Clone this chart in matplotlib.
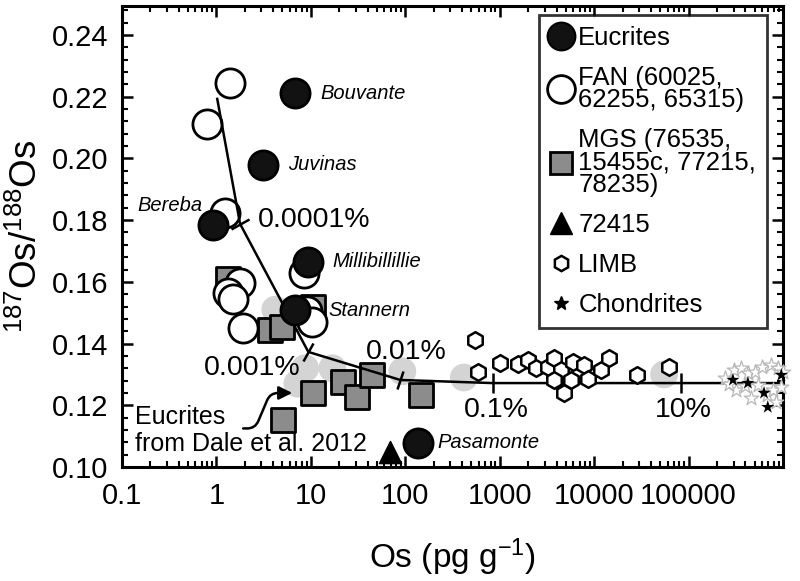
import matplotlib
matplotlib.use("Agg")
import matplotlib.pyplot as plt
from matplotlib.markers import MarkerStyle
from matplotlib.transforms import Affine2D
from matplotlib.lines import Line2D

plt.rcParams['font.family'] = ['Liberation Sans', 'DejaVu Sans']
plt.rcParams['mathtext.default'] = 'regular'

# ---------------- data ----------------
eucrite_names = ['Bouvante', 'Juvinas', 'Bereba', 'Millibillillie', 'Stannern', 'Pasamonte']
eucrite_os = [6.8, 3.1, 0.92, 9.4, 6.8, 138]
eucrite_ratio = [0.2212, 0.1979, 0.1784, 0.1665, 0.1509, 0.1078]
eucrite_label_os = [12.6, 5.75, 0.705, 16.9, 15.3, 219]
eucrite_label_ratio = [0.2212, 0.1979, 0.1849, 0.1665, 0.1506, 0.1078]
eucrite_label_ha = ['left', 'left', 'right', 'left', 'left', 'left']

fan_os = [1.40, 0.80, 1.24, 8.5, 1.78, 1.33, 1.50, 1.92, 9.0, 10.3]
fan_ratio = [0.2245, 0.2112, 0.1822, 0.1629, 0.1596, 0.1564, 0.1545, 0.1451, 0.1505, 0.1470]

mgs_os = [1.33, 10.6, 3.7, 4.9, 10.6, 5.1, 22, 31, 44.5, 145]
mgs_ratio = [0.161, 0.1519, 0.1444, 0.1454, 0.1240, 0.1152, 0.1276, 0.1227, 0.1298, 0.1233]

tri_os = [69]
tri_ratio = [0.1049]

dale_os = [4.2, 8.7, 7.2, 16.9, 93, 417, 55000]
dale_ratio = [0.151, 0.132, 0.127, 0.132, 0.131, 0.129, 0.130]

limb_os = [553, 596, 995, 1545, 1974, 2400, 3215, 3720, 4420, 3720, 4760, 5630,
           6030, 7740, 8700, 11700, 14200, 28700, 61500]
limb_ratio = [0.1412, 0.1308, 0.1337, 0.1334, 0.1347, 0.1321, 0.1324, 0.1353, 0.1314,
              0.1282, 0.1240, 0.1282, 0.1340, 0.1331, 0.1285, 0.1314, 0.1353, 0.1298, 0.1324]

chond_os = [295000, 425000, 630000, 960000, 690000]
chond_ratio = [0.1282, 0.1272, 0.1240, 0.1298, 0.1194]

halo_os = [245000, 300000, 355000, 430000, 510000, 600000, 740000, 880000, 1000000,
           316000, 400000, 457000, 550000, 680000, 777000, 834000, 950000, 270000]
halo_ratio = [0.1288, 0.1315, 0.1321, 0.1305, 0.1308, 0.1325, 0.1331, 0.1320, 0.1308,
              0.1250, 0.1262, 0.1224, 0.1266, 0.1232, 0.1250, 0.1211, 0.1260, 0.1270]

mix_os = [1.02, 1.78, 9.4, 88.7, 840, 82600, 1000000]
mix_ratio = [0.2193, 0.1788, 0.1373, 0.1282, 0.1272, 0.1272, 0.1272]

pct_labels = ['0.0001%', '0.001%', '0.01%', '0.1%', '10%']
pct_tick_os = [1.78, 9.4, 88.7, 840, 82600]
pct_tick_ratio = [0.1788, 0.1373, 0.1282, 0.1272, 0.1272]
pct_tick_angle = [-61, -28, -17, 0, 0]
pct_label_os = [2.77, 2.39, 38.6, 925, 89000]
pct_label_ratio = [0.1801, 0.1321, 0.1373, 0.1185, 0.1185]
pct_label_ha = ['left', 'center', 'left', 'center', 'center']

xticks = [0.1, 1, 10, 100, 1000, 10000, 100000]
xticklabels = ['0.1', '1', '10', '100', '1000', '10000', '100000']
yticks = [0.10, 0.12, 0.14, 0.16, 0.18, 0.20, 0.22, 0.24]

# ---------------- figure ----------------
fig = plt.figure(figsize=(8.0, 5.81), dpi=100)
ax = fig.add_axes([122/800, 1-467/581, (783-122)/800, (467-6)/581])
ax.set_xscale('log')
ax.set_xlim(0.1, 1e6)
ax.set_ylim(0.10, 0.2494)

# Dale et al. eucrites (light gray)
ax.scatter(dale_os, dale_ratio, s=20**2, c='#d4d4d4', edgecolors='none', zorder=1)

# MGS squares
ax.scatter(mgs_os, mgs_ratio, s=17**2, marker='s', c='#8c8c8c', edgecolors='black',
           linewidths=2.0, zorder=2)

# FAN open circles
ax.scatter(fan_os, fan_ratio, s=21**2, marker='o', c='white', edgecolors='black',
           linewidths=2.0, zorder=3)

# mixing line
ax.plot(mix_os, mix_ratio, color='black', lw=1.8, zorder=4, clip_on=False)
for xo, yo, ang in zip(pct_tick_os, pct_tick_ratio, pct_tick_angle):
    m = MarkerStyle('|', transform=Affine2D().rotate_deg(ang))
    ax.plot([xo], [yo], marker=m, markersize=14, mew=1.8, color='black', zorder=4)
for lab, xo, yo, ha in zip(pct_labels, pct_label_os, pct_label_ratio, pct_label_ha):
    ax.text(xo, yo, lab, fontsize=20.5, ha=ha, va='center', zorder=6)

# LIMB hexagons
ax.scatter(limb_os, limb_ratio, s=12**2, marker='h', c='white', edgecolors='black',
           linewidths=1.8, zorder=5)

# Chondrites
ax.scatter(halo_os, halo_ratio, s=11**2, marker='*', c='white', edgecolors='#b8b8b8',
           linewidths=0.9, zorder=5, clip_on=False)
ax.scatter(chond_os, chond_ratio, s=10**2, marker='*', c='black', edgecolors='none',
           zorder=6, clip_on=False)

# triangle
ax.scatter(tri_os, tri_ratio, s=16**2, marker='^', c='black', edgecolors='black', zorder=5)

# Eucrites
ax.scatter(eucrite_os, eucrite_ratio, s=21**2, marker='o', c='#121212', edgecolors='black',
           linewidths=2.0, zorder=6)
for name, xo, yo, ha in zip(eucrite_names, eucrite_label_os, eucrite_label_ratio, eucrite_label_ha):
    ax.text(xo, yo, name, fontsize=14.5, style='italic', ha=ha, va='center', zorder=7)

# Dale annotation
ax.text(0.137, 0.1117, 'Eucrites\nfrom Dale et al. 2012', fontsize=18, ha='left',
        va='center', linespacing=1.15, zorder=7)
ax.annotate('', xy=(6.35, 0.124), xytext=(1.92, 0.1125),
            arrowprops=dict(arrowstyle='-|>,head_length=0.8,head_width=0.4', color='black', lw=1.8,
                            connectionstyle='arc,angleA=0,angleB=180,armA=12,armB=22,rad=8',
                            shrinkA=0, shrinkB=0), zorder=7)

# axes styling
for sp in ax.spines.values():
    sp.set_linewidth(2.2)
ax.set_xticks(xticks)
ax.set_xticklabels(xticklabels)
ax.set_yticks(yticks)
ax.set_yticklabels(['%.2f' % v for v in yticks])
ax.yaxis.set_minor_locator(matplotlib.ticker.MultipleLocator(0.004))
ax.tick_params(which='both', direction='in', top=True, right=True, labelsize=21)
ax.tick_params(axis='x', which='major', pad=11)
ax.tick_params(axis='y', which='major', pad=10)
ax.tick_params(which='major', length=8, width=1.8)
ax.tick_params(which='minor', length=4, width=1.5)
ax.xaxis.set_minor_locator(matplotlib.ticker.LogLocator(base=10, subs=range(2, 10), numticks=20))
ax.xaxis.set_minor_formatter(matplotlib.ticker.NullFormatter())

ax.set_xlabel('Os (pg g$^{-1}$)', fontsize=24, labelpad=19)
ax.set_ylabel('$^{187}$Os/$^{188}$Os', fontsize=26.5, labelpad=5)

# legend
handles = [
    Line2D([], [], ls='none', marker='o', ms=20, mfc='#121212', mec='black', mew=1.5),
    Line2D([], [], ls='none', marker='o', ms=20, mfc='white', mec='black', mew=2.0),
    Line2D([], [], ls='none', marker='s', ms=16, mfc='#8c8c8c', mec='black', mew=2.0),
    Line2D([], [], ls='none', marker='^', ms=16, mfc='black', mec='black'),
    Line2D([], [], ls='none', marker='h', ms=11, mfc='white', mec='black', mew=1.8),
    Line2D([], [], ls='none', marker='*', ms=10, mfc='black', mec='black'),
]
labels = ['Eucrites', 'FAN (60025,\n62255, 65315)', 'MGS (76535,\n15455c, 77215,\n78235)',
          '72415', 'LIMB', 'Chondrites']
leg = ax.legend(handles, labels, loc='upper right', bbox_to_anchor=(767/800, 1-15/581),
                bbox_transform=fig.transFigure, fontsize=18.5, frameon=True, fancybox=False,
                edgecolor='black', borderaxespad=0, handlelength=0.85, handletextpad=0.25,
                labelspacing=0.62, borderpad=0.42)
leg.get_frame().set_linewidth(2.0)
for t in leg.get_texts():
    t.set_linespacing(0.92)
leg.set_zorder(10)

fig.savefig('out.png', dpi=100)
